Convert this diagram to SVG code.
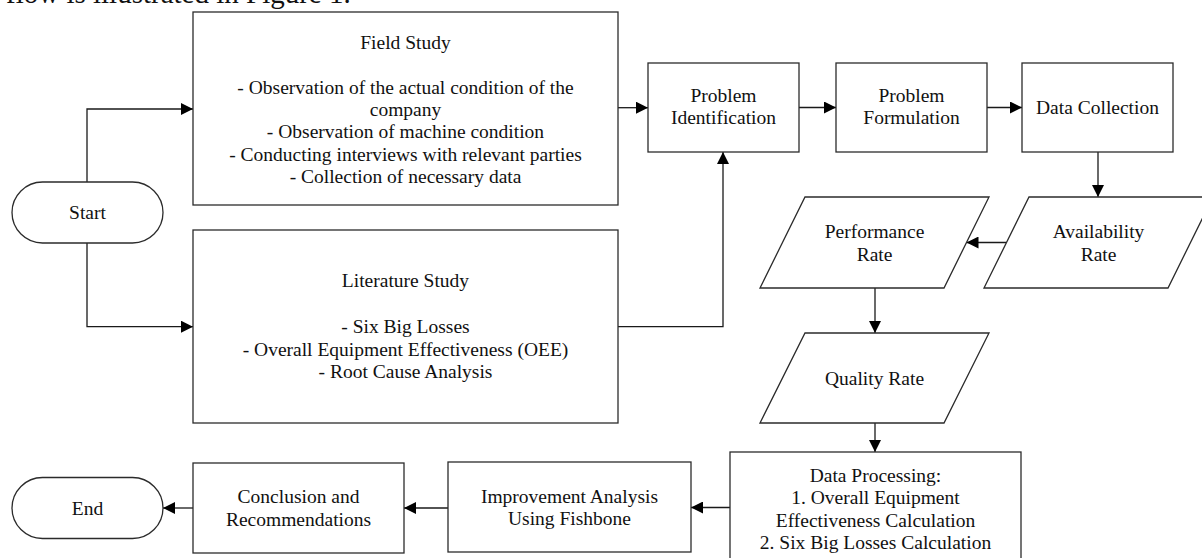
<svg xmlns="http://www.w3.org/2000/svg" width="1202" height="558" viewBox="0 0 1202 558">
<defs>
<style>
.n{fill:#fff;stroke:#2b2b2b;stroke-width:1.3}
.t{font-family:"Liberation Serif","Times New Roman",serif;font-size:19.5px;fill:#111;text-anchor:middle}
.c{fill:none;stroke:#1a1a1a;stroke-width:1.3}
</style>
<marker id="ah" markerUnits="userSpaceOnUse" markerWidth="12" markerHeight="12" refX="12" refY="6" orient="auto">
<path d="M0,0 L12,6 L0,12 z" fill="#000"/>
</marker>
</defs>
<rect width="1202" height="558" fill="#fff"/>
<text x="6" y="3" style="font-family:'Liberation Serif',serif;font-size:29px;fill:#111">flow is illustrated in Figure 1.</text>
<g id="connectors">
<path class="c" d="M87,182 V109 H193" marker-end="url(#ah)"/>
<path class="c" d="M87,243 V326.7 H193" marker-end="url(#ah)"/>
<path class="c" d="M618,107.7 H648" marker-end="url(#ah)"/>
<path class="c" d="M618,326.7 H723 V152" marker-end="url(#ah)"/>
<path class="c" d="M799,107.5 H836" marker-end="url(#ah)"/>
<path class="c" d="M987,107.5 H1022" marker-end="url(#ah)"/>
<path class="c" d="M1098,152 V197" marker-end="url(#ah)"/>
<path class="c" d="M1006.5,242.5 H966.5" marker-end="url(#ah)"/>
<path class="c" d="M875,288 V333" marker-end="url(#ah)"/>
<path class="c" d="M875,423 V452" marker-end="url(#ah)"/>
<path class="c" d="M730,507.5 H691" marker-end="url(#ah)"/>
<path class="c" d="M448,508 H404" marker-end="url(#ah)"/>
<path class="c" d="M193,508 H163" marker-end="url(#ah)"/>
</g>
<g id="start">
<rect class="n" x="12" y="182" width="151" height="61" rx="30.5"/>
<text class="t" x="87.5" y="219">Start</text>
</g>
<g id="field-study">
<rect class="n" x="193" y="12" width="425" height="193"/>
<text class="t" x="405.5" y="49">Field Study</text>
<text class="t" x="405.5" y="94">- Observation of the actual condition of the</text>
<text class="t" x="405.5" y="116">company</text>
<text class="t" x="405.5" y="138">- Observation of machine condition</text>
<text class="t" x="405.5" y="160.5">- Conducting interviews with relevant parties</text>
<text class="t" x="405.5" y="182.5">- Collection of necessary data</text>
</g>
<g id="literature-study">
<rect class="n" x="193" y="230" width="425" height="193"/>
<text class="t" x="405.5" y="286.5">Literature Study</text>
<text class="t" x="405.5" y="332.5">- Six Big Losses</text>
<text class="t" x="405.5" y="355.5">- Overall Equipment Effectiveness (OEE)</text>
<text class="t" x="405.5" y="378">- Root Cause Analysis</text>
</g>
<g id="problem-identification">
<rect class="n" x="648" y="63" width="151" height="89"/>
<text class="t" x="723.5" y="101.5">Problem</text>
<text class="t" x="723.5" y="124">Identification</text>
</g>
<g id="problem-formulation">
<rect class="n" x="836" y="63" width="151" height="89"/>
<text class="t" x="911.5" y="101.5">Problem</text>
<text class="t" x="911.5" y="124">Formulation</text>
</g>
<g id="data-collection">
<rect class="n" x="1022" y="63" width="151" height="89"/>
<text class="t" x="1097.5" y="114">Data Collection</text>
</g>
<g id="availability-rate">
<polygon class="n" points="1029,197 1213,197 1168,288 984,288"/>
<text class="t" x="1098.5" y="237.5">Availability</text>
<text class="t" x="1098.5" y="260.5">Rate</text>
</g>
<g id="performance-rate">
<polygon class="n" points="805,197 989,197 944,288 760,288"/>
<text class="t" x="874.5" y="237.5">Performance</text>
<text class="t" x="874.5" y="260.5">Rate</text>
</g>
<g id="quality-rate">
<polygon class="n" points="805,333 989,333 944,423 760,423"/>
<text class="t" x="874.5" y="384.5">Quality Rate</text>
</g>
<g id="data-processing">
<rect class="n" x="730" y="452" width="291" height="112"/>
<text class="t" x="875.5" y="481.5">Data Processing:</text>
<text class="t" x="875.5" y="504">1. Overall Equipment</text>
<text class="t" x="875.5" y="527">Effectiveness Calculation</text>
<text class="t" x="875.5" y="549">2. Six Big Losses Calculation</text>
</g>
<g id="improvement-analysis">
<rect class="n" x="448" y="462" width="243" height="90"/>
<text class="t" x="569.5" y="503">Improvement Analysis</text>
<text class="t" x="569.5" y="525">Using Fishbone</text>
</g>
<g id="conclusion">
<rect class="n" x="193" y="463" width="211" height="90"/>
<text class="t" x="298.5" y="503">Conclusion and</text>
<text class="t" x="298.5" y="526">Recommendations</text>
</g>
<g id="end">
<rect class="n" x="12" y="477.5" width="151" height="61" rx="30.5"/>
<text class="t" x="87.5" y="514.5">End</text>
</g>
</svg>
